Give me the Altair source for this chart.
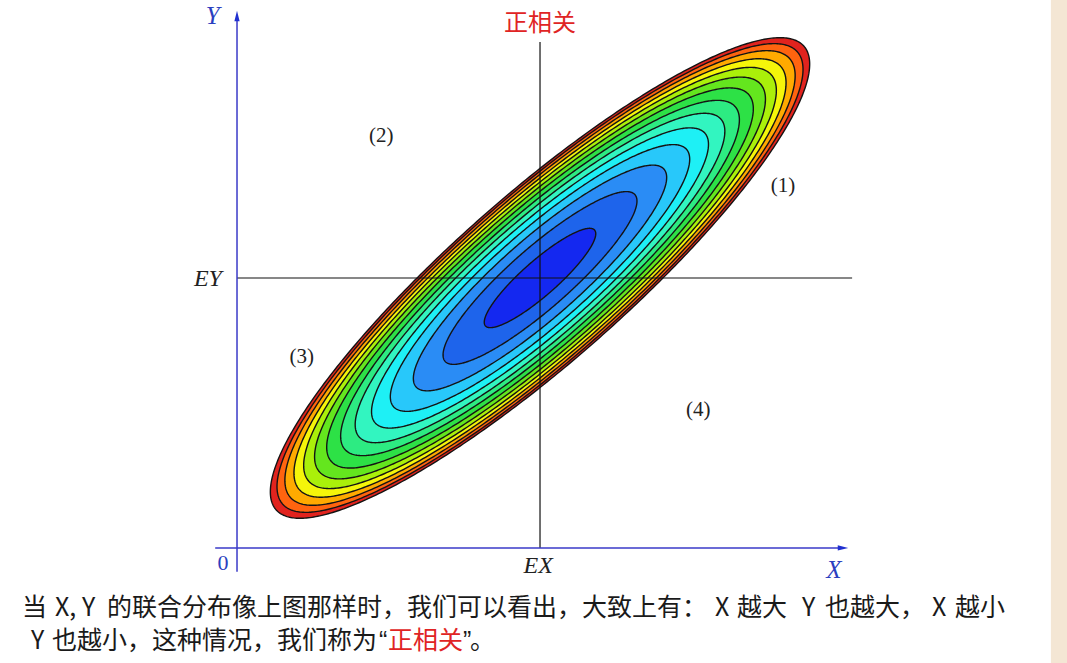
import altair as alt
import numpy as np
import pandas as pd

# ---------------- values ----------------
# canvas mapped to data space (origin of the drawn axes = 0,0)
x_domain = [-3.911, 13.696]
y_domain = [-2.130, 10.148]

mean_x, mean_y = 5.0, 5.0      # EX, EY
rho = 0.89                     # correlation (tilt / thinness of the ellipses)

# contour radii (inner -> outer) and fill colours
level_radius = [0.92, 1.60, 2.09, 2.47, 2.78, 3.05, 3.29, 3.52, 3.72, 3.90, 4.06, 4.21, 4.34, 4.45]
level_color = ["#1428F0", "#1E64EB", "#2A8CF5", "#28C8FA", "#1EF0F5", "#32F5C0", "#2DEB82",
               "#2DE146", "#64E61E", "#AAF00A", "#F5F50A", "#FFAA00", "#FF640F", "#E1231E"]

quad_text = ["(1)", "(2)", "(3)", "(4)"]
quad_x = [9.01, 2.38, 1.07, 7.61]
quad_y = [6.70, 7.63, 3.54, 2.56]

e_text = ["EX", "EY"]
e_x = [4.97, -0.48]
e_y = [-0.33, 4.98]

axis_name_text = ["X", "Y"]
axis_name_x = [9.85, -0.40]
axis_name_y = [-0.41, 9.85]

title_text = ["正相关"]
title_x = [5.0]
title_y = [9.70]

# caption pieces (text, colour, font) and where each piece starts (pixels from the left) / its line
caption_text = ["当", "X, Y", "的联合分布像上图那样时，我们可以看出，大致上有：", "X", "越大", "Y", "也越大，", "X", "越小",
                "Y", "也越小，这种情况，我们称为", "“", "正相关", "”", "。"]
caption_color = ["#1a1a1a"] * 12 + ["#E02424", "#1a1a1a", "#1a1a1a"]
caption_font = ["cjk"] * 11 + ["latin", "cjk", "latin", "cjk"]
caption_px = [22, 55, 107, 715, 737, 802, 825, 932, 955,
              31, 52, 379, 388, 463, 470]
caption_line = [1] * 9 + [2] * 6

W, H = 1067, 663
px_per_x = 60.6
origin_px = 237


def X(field):
    return alt.X(field, type="quantitative", scale=alt.Scale(domain=x_domain, nice=False, zero=False), axis=None)


def Y(field):
    return alt.Y(field, type="quantitative", scale=alt.Scale(domain=y_domain, nice=False, zero=False), axis=None)


def Y2(field):
    return alt.Y2(field)


# ---------------- ellipses ----------------
s = np.linspace(0, np.pi, 241)
layers = []
k = np.sqrt(1 - rho ** 2)
for r, col in reversed(list(zip(level_radius, level_color))):
    df = pd.DataFrame({
        "x": mean_x + r * np.cos(s),
        "ylo": mean_y + r * (rho * np.cos(s) - k * np.sin(s)),
        "yhi": mean_y + r * (rho * np.cos(s) + k * np.sin(s)),
    })
    layers.append(
        alt.Chart(df).mark_area(color=col, stroke="#141414", strokeWidth=1.4, interpolate="linear")
        .encode(x=X("x"), y=Y("ylo"), y2=Y2("yhi"))
    )

# ---------------- reference lines (EX, EY) ----------------
ref_df = pd.DataFrame({"x": [mean_x, 0.0], "x2": [mean_x, 10.15], "y": [0.0, mean_y], "y2": [9.37, mean_y]})
ref = alt.Chart(ref_df).mark_rule(color="#111111", strokeWidth=1.2).encode(
    x=X("x"), x2=alt.X2("x2"), y=Y("y"), y2=Y2("y2"))

# ---------------- axes with arrows ----------------
ax_df = pd.DataFrame({"x": [-0.36, 0.0], "x2": [10.0, 0.0], "y": [0.0, -0.44], "y2": [0.0, 9.8]})
axes = alt.Chart(ax_df).mark_rule(color="#3A3AC8", strokeWidth=1.5).encode(
    x=X("x"), x2=alt.X2("x2"), y=Y("y"), y2=Y2("y2"))

arr_x = alt.Chart(pd.DataFrame({"x": [10.0], "y": [0.0]})).mark_point(
    shape="M1,0L-1,-0.5L-1,0.5Z", filled=True, color="#2030D0", size=110, opacity=1
).encode(x=X("x"), y=Y("y"))
arr_y = alt.Chart(pd.DataFrame({"x": [0.0], "y": [9.85]})).mark_point(
    shape="M0,-1L0.5,1L-0.5,1Z", filled=True, color="#2030D0", size=110, opacity=1
).encode(x=X("x"), y=Y("y"))

# ---------------- texts ----------------
serif = "Liberation Serif"
cjk = "Noto Sans CJK SC"

quad = alt.Chart(pd.DataFrame({"x": quad_x, "y": quad_y, "t": quad_text})).mark_text(
    font=serif, fontSize=21, color="#222222").encode(x=X("x"), y=Y("y"), text="t:N")
elab = alt.Chart(pd.DataFrame({"x": e_x, "y": e_y, "t": e_text})).mark_text(
    font=serif, fontSize=24, fontStyle="italic", color="#222222").encode(x=X("x"), y=Y("y"), text="t:N")
axname = alt.Chart(pd.DataFrame({"x": axis_name_x, "y": axis_name_y, "t": axis_name_text})).mark_text(
    font=serif, fontSize=25, fontStyle="italic", color="#2B3FC0").encode(x=X("x"), y=Y("y"), text="t:N")
zero = alt.Chart(pd.DataFrame({"x": [-0.23], "y": [-0.28], "t": ["0"]})).mark_text(
    font=serif, fontSize=22, color="#2B3FC0").encode(x=X("x"), y=Y("y"), text="t:N")
title = alt.Chart(pd.DataFrame({"x": title_x, "y": title_y, "t": title_text})).mark_text(
    font=cjk, fontSize=24, color="#E02424").encode(x=X("x"), y=Y("y"), text="t:N")

cap_df = pd.DataFrame({
    "x": [(p - origin_px) / px_per_x for p in caption_px],
    "y": [-1.11 if ln == 1 else -1.72 for ln in caption_line],
    "t": caption_text, "c": caption_color, "f": caption_font,
})
cap_cjk = alt.Chart(cap_df).transform_filter(alt.datum.f == "cjk").mark_text(
    font=cjk, fontSize=25, align="left").encode(
    x=X("x"), y=Y("y"), text="t:N", color=alt.Color("c:N", scale=None))
cap_latin = alt.Chart(cap_df).transform_filter(alt.datum.f == "latin").mark_text(
    font="Liberation Sans", fontSize=25, align="left").encode(
    x=X("x"), y=Y("y"), text="t:N", color=alt.Color("c:N", scale=None))

# beige strip on the right edge
strip = alt.Chart(pd.DataFrame({"x": [13.43], "x2": [13.70], "y": [y_domain[0]], "y2": [y_domain[1]]})).mark_rect(
    color="#F4E6D4").encode(x=X("x"), x2=alt.X2("x2"), y=Y("y"), y2=Y2("y2"))

chart = alt.layer(strip, *layers, ref, axes, arr_x, arr_y, quad, elab, axname, zero, title,
                  cap_cjk, cap_latin).properties(
    width=W, height=H, autosize="none", padding=0, background="white"
).configure_view(strokeWidth=0)

chart.save("out.html", embed_options={"renderer": "svg", "actions": False})
